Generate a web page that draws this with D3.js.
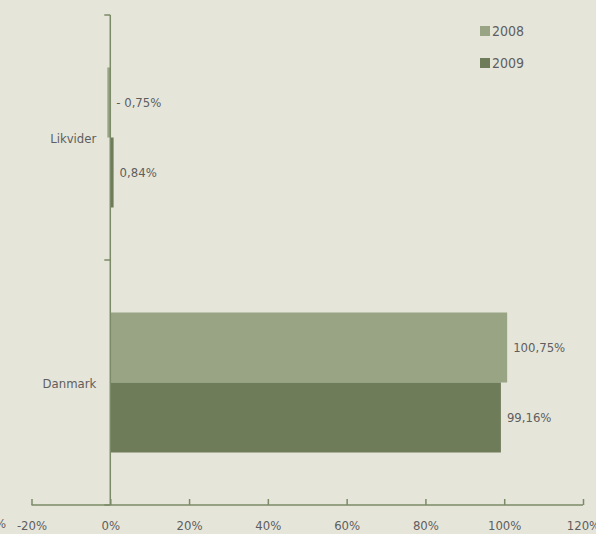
<!DOCTYPE html>
<html>
<head>
<meta charset="utf-8">
<script src="https://cdn.jsdelivr.net/npm/d3@7"></script>
<style>
  html, body { margin: 0; padding: 0; background: #e6e5da; }
  svg { display: block; }
  text { font-family: "DejaVu Sans Condensed", "DejaVu Sans", sans-serif; font-stretch: condensed; fill: #5e5e5e; }
</style>
</head>
<body>
<svg id="chart"></svg>
<script>
const categories = ["Likvider", "Danmark"];
const seriesNames = ["2008", "2009"];
const values2008 = [-0.75, 100.75];
const values2009 = [0.84, 99.16];
const tickValues = [-20, 0, 20, 40, 60, 80, 100, 120];

const width = 596, height = 534;
const colors = { "2008": "#98a484", "2009": "#6e7c5a" };
const axisColor = "#7b8a67";
const fmt = v => d3.format(".2f")(v).replace(".", ",") + "%";

const svg = d3.select("#chart").attr("width", width).attr("height", height);

const x = d3.scaleLinear().domain([-20, 120]).range([31.5, 583]);
const y = d3.scaleBand().domain(categories).range([15, 505]);
const inner = d3.scaleBand().domain(seriesNames).range([0, 140]);
const groupOffset = (y.bandwidth() - 140) / 2;

const rows = categories.map((c, i) => ({ cat: c, vals: [values2008[i], values2009[i]] }));

// bars
const g = svg.selectAll("g.cat").data(rows).enter().append("g")
  .attr("transform", d => `translate(0,${y(d.cat) + groupOffset})`);

g.selectAll("rect").data(d => d.vals.map((v, i) => ({ s: seriesNames[i], v })))
  .enter().append("rect")
  .attr("x", d => x(Math.min(0, d.v)))
  .attr("width", d => Math.abs(x(d.v) - x(0)))
  .attr("y", d => inner(d.s))
  .attr("height", inner.bandwidth())
  .attr("fill", d => colors[d.s]);

g.selectAll("text.val").data(d => d.vals.map((v, i) => ({ s: seriesNames[i], v })))
  .enter().append("text")
  .attr("class", "val")
  .attr("x", d => x(Math.max(0, d.v)) + 6)
  .attr("y", d => inner(d.s) + inner.bandwidth() / 2)
  .attr("dy", "0.35em")
  .style("font-size", "13px")
  .text(d => d.v < 0 ? "- " + fmt(-d.v) : fmt(d.v));

// x axis
const xAxis = svg.append("g").attr("transform", `translate(0,${y.range()[1]})`)
  .call(d3.axisBottom(x).tickValues(tickValues).tickSize(6).tickPadding(10)
    .tickFormat(d => d + "%"));
xAxis.select(".domain").attr("stroke", axisColor).attr("stroke-width", 1.5)
  .attr("d", `M${x.range()[0]},0H${x.range()[1]}`);
xAxis.selectAll(".tick line").attr("stroke", axisColor).attr("stroke-width", 1.5)
  .attr("y2", -6);
xAxis.selectAll(".tick text").style("font-size", "13px").attr("fill", "#5e5e5e");
// cut-off label on the far left
xAxis.append("text").attr("x", 6).attr("y", 23).attr("text-anchor", "end")
  .style("font-size", "13px").text("-40%");

// y axis
const yAxis = svg.append("g").attr("transform", `translate(${x(0)},0)`);
yAxis.append("line").attr("y1", y.range()[0]).attr("y2", y.range()[1])
  .attr("stroke", axisColor).attr("stroke-width", 1.5);
const yTicks = categories.map(c => y(c)).concat([y.range()[1]]);
yAxis.selectAll("line.tick").data(yTicks).enter().append("line")
  .attr("class", "tick").attr("x1", -6).attr("x2", 0)
  .attr("y1", d => d).attr("y2", d => d)
  .attr("stroke", axisColor).attr("stroke-width", 1.5);
yAxis.selectAll("text").data(categories).enter().append("text")
  .attr("x", -14).attr("y", d => y(d) + y.bandwidth() / 2 + 1)
  .attr("dy", "0.35em").attr("text-anchor", "end")
  .style("font-size", "13px").text(d => d);

// legend
const legend = svg.append("g").attr("transform", "translate(480,26)");
const li = legend.selectAll("g").data(seriesNames).enter().append("g")
  .attr("transform", (d, i) => `translate(0,${i * 32})`);
li.append("rect").attr("width", 10).attr("height", 10).attr("fill", d => colors[d]);
li.append("text").attr("x", 12).attr("y", 5).attr("dy", "0.35em")
  .style("font-size", "14px").text(d => d);
</script>
</body>
</html>
